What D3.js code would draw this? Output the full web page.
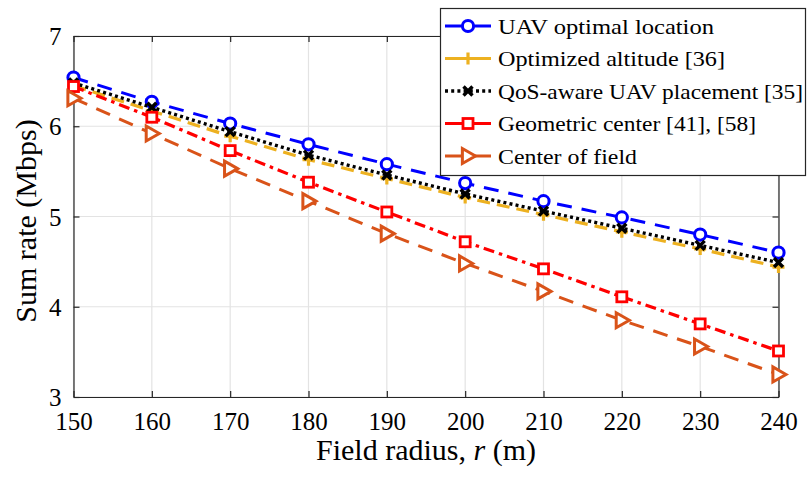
<!DOCTYPE html>
<html>
<head>
<meta charset="utf-8">
<script src="https://cdn.jsdelivr.net/npm/d3@7"></script>
<style>
  html, body { margin: 0; padding: 0; background: #fff; }
  svg { display: block; }
</style>
</head>
<body>
<svg id="chart" width="808" height="479"></svg>
<script>
// Field radius (m)
const radius = [150, 160, 170, 180, 190, 200, 210, 220, 230, 240];

// Sum rate (Mbps) for each placement scheme
const uavOptimal   = [6.54, 6.27, 6.03, 5.80, 5.58, 5.37, 5.17, 4.99, 4.80, 4.60];
const optAltitude  = [6.45, 6.17, 5.89, 5.63, 5.42, 5.21, 5.02, 4.83, 4.64, 4.44];
const qosAware     = [6.48, 6.21, 5.94, 5.68, 5.46, 5.25, 5.06, 4.87, 4.68, 4.49];
const geoCenter    = [6.44, 6.10, 5.73, 5.38, 5.05, 4.72, 4.42, 4.11, 3.81, 3.51];
const fieldCenter  = [6.31, 5.92, 5.53, 5.17, 4.81, 4.48, 4.17, 3.85, 3.56, 3.25];

const xTicks = [150, 160, 170, 180, 190, 200, 210, 220, 230, 240];
const yTicks = [3, 4, 5, 6, 7];

const seriesNames = [
  "UAV optimal location",
  "Optimized altitude [36]",
  "QoS-aware UAV placement [35]",
  "Geometric center [41], [58]",
  "Center of field"
];

const FONT = '"Liberation Serif", "Times New Roman", Tinos, "DejaVu Serif", "Noto Serif", serif';

const series = [
  { name: seriesNames[0], values: uavOptimal,  color: "#0000ff", dash: "15,10",      width: 3,   marker: "circle" },
  { name: seriesNames[1], values: optAltitude, color: "#edb120", dash: "13,7",       width: 3.2, marker: "plus" },
  { name: seriesNames[2], values: qosAware,    color: "#000000", dash: "3,3.2",      width: 3.4, marker: "cross" },
  { name: seriesNames[3], values: geoCenter,   color: "#ff0000", dash: "11,5,3.5,5", width: 3.2, marker: "square" },
  { name: seriesNames[4], values: fieldCenter, color: "#d95319", dash: "15,10",      width: 3,   marker: "triangle" }
];

const svg = d3.select("#chart").attr("font-family", FONT);
const margin = { left: 73.5, right: 29.5, top: 36, bottom: 82 };
const W = 808, H = 479;
const x = d3.scaleLinear().domain([150, 240]).range([margin.left, W - margin.right]);
const y = d3.scaleLinear().domain([3, 7]).range([H - margin.bottom, margin.top]);

// grid
const grid = svg.append("g").attr("stroke", "#e3e3e3").attr("stroke-width", 1.2);
xTicks.forEach(t => grid.append("line").attr("x1", x(t)).attr("x2", x(t)).attr("y1", y(3)).attr("y2", y(7)));
yTicks.forEach(t => grid.append("line").attr("x1", x(150)).attr("x2", x(240)).attr("y1", y(t)).attr("y2", y(t)));

// axes (ticks drawn inward, as on a boxed plot)
const tickLen = 6;
const fmt = d3.format("d");
const bottomAxis = d3.axisBottom(x).tickValues(xTicks).tickFormat(fmt).tickSizeInner(-tickLen).tickSizeOuter(0).tickPadding(15);
const leftAxis = d3.axisLeft(y).tickValues(yTicks).tickFormat(fmt).tickSizeInner(-tickLen).tickSizeOuter(0).tickPadding(12);
const topAxis = d3.axisTop(x).tickValues(xTicks).tickSizeInner(-tickLen).tickSizeOuter(0).tickFormat("");
const rightAxis = d3.axisRight(y).tickValues(yTicks).tickSizeInner(-tickLen).tickSizeOuter(0).tickFormat("");

function styleAxis(g) {
  g.attr("font-family", FONT);
  g.select(".domain").attr("stroke", "#262626").attr("stroke-width", 1.2);
  g.selectAll(".tick line").attr("stroke", "#262626").attr("stroke-width", 1.2);
  g.selectAll(".tick text").attr("font-size", 25).attr("fill", "#000");
}
svg.append("g").attr("transform", `translate(0,${y(3)})`).call(bottomAxis).call(styleAxis);
svg.append("g").attr("transform", `translate(${x(150)},0)`).call(leftAxis).call(styleAxis)
  .selectAll(".tick text").attr("dy", "0.34em");
svg.append("g").attr("transform", `translate(0,${y(7)})`).call(topAxis).call(styleAxis);
svg.append("g").attr("transform", `translate(${x(240)},0)`).call(rightAxis).call(styleAxis);

// axis titles
const xt = svg.append("text").attr("x", (x(150) + x(240)) / 2).attr("y", 460)
  .attr("text-anchor", "middle").attr("font-size", 30);
xt.append("tspan").text("Field radius, ");
xt.append("tspan").attr("font-style", "italic").text("r");
xt.append("tspan").text(" (m)");

svg.append("text").attr("transform", `translate(36,${221}) rotate(-90)`)
  .attr("text-anchor", "middle").attr("font-size", 30).text("Sum rate (Mbps)");

// markers
function drawMarker(g, type, cx, cy, color) {
  if (type === "circle") {
    g.append("circle").attr("cx", cx).attr("cy", cy).attr("r", 5.6)
      .attr("fill", "#fff").attr("stroke", color).attr("stroke-width", 3);
  } else if (type === "square") {
    g.append("rect").attr("x", cx - 5).attr("y", cy - 5).attr("width", 10).attr("height", 10)
      .attr("fill", "#fff").attr("stroke", color).attr("stroke-width", 2.8);
  } else if (type === "triangle") {
    const s = 7.5;
    g.append("path").attr("d", `M${cx + s},${cy} L${cx - s * 0.75},${cy - s} L${cx - s * 0.75},${cy + s} Z`)
      .attr("fill", "#fff").attr("stroke", color).attr("stroke-width", 3).attr("stroke-linejoin", "miter");
  } else if (type === "plus") {
    const s = 6;
    g.append("path").attr("d", `M${cx - s},${cy} H${cx + s} M${cx},${cy - s} V${cy + s}`)
      .attr("stroke", color).attr("stroke-width", 3.2).attr("fill", "none");
  } else if (type === "cross") {
    const s = 4.5;
    g.append("path").attr("d", `M${cx - s},${cy - s} L${cx + s},${cy + s} M${cx - s},${cy + s} L${cx + s},${cy - s}`)
      .attr("stroke", color).attr("stroke-width", 3.4).attr("fill", "none");
  }
}

const line = d3.line().x((d, i) => x(radius[i])).y(d => y(d));
series.forEach(s => {
  const g = svg.append("g");
  g.append("path").attr("d", line(s.values)).attr("fill", "none")
    .attr("stroke", s.color).attr("stroke-width", s.width).attr("stroke-dasharray", s.dash);
  s.values.forEach((v, i) => drawMarker(g, s.marker, x(radius[i]), y(v), s.color));
});

// legend
const lg = svg.append("g");
lg.append("rect").attr("x", 440.5).attr("y", 8.5).attr("width", 365).attr("height", 167)
  .attr("fill", "#fff").attr("stroke", "#262626").attr("stroke-width", 1.2);
const legendWidths = [216, 227, 305, 258, 139];
series.forEach((s, i) => {
  const cy = 26 + i * 32.5;
  lg.append("line").attr("x1", 445).attr("x2", 491).attr("y1", cy).attr("y2", cy)
    .attr("stroke", s.color).attr("stroke-width", s.width)
    .attr("stroke-dasharray", s.marker === "cross" ? "3,3.2" : null);
  drawMarker(lg, s.marker, 468, cy, s.color);
  lg.append("text").attr("x", 498).attr("y", cy + 7.5).attr("font-size", 22)
    .attr("textLength", legendWidths[i]).attr("lengthAdjust", "spacingAndGlyphs")
    .text(s.name);
});
</script>
</body>
</html>
